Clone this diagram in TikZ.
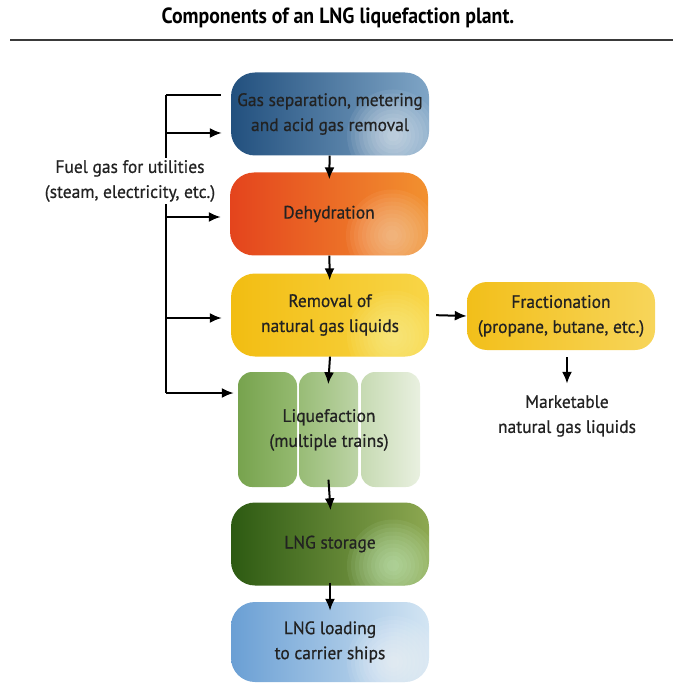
\documentclass[tikz,border=0pt]{standalone}
\usepackage{fontspec}
\setmainfont{PT Sans}[FakeStretch=0.98]
\newfontfamily\lblfont{PT Sans}[FakeStretch=0.97, FakeBold=0.6]
\newfontfamily\titlefont{PT Sans}[FakeStretch=0.9]
\usepackage{tikz}
\usetikzlibrary{arrows.meta}
\usetikzlibrary{calc}

\definecolor{textgray}{HTML}{222222}
\definecolor{rulegray}{HTML}{3A3A3A}
\definecolor{sepleft}{HTML}{22507E}
\definecolor{sepright}{HTML}{7FA5C6}
\definecolor{dehleft}{HTML}{E4441D}
\definecolor{dehright}{HTML}{F2912F}
\definecolor{nglleft}{HTML}{F2BD12}
\definecolor{nglright}{HTML}{F8D547}
\definecolor{fracleft}{HTML}{F2BF1A}
\definecolor{fracright}{HTML}{F7D55A}
\definecolor{trainAl}{HTML}{77A34E}
\definecolor{trainAr}{HTML}{95BA70}
\definecolor{trainBl}{HTML}{98BC76}
\definecolor{trainBr}{HTML}{BDD4A6}
\definecolor{trainCl}{HTML}{C6DAB2}
\definecolor{trainCr}{HTML}{E9F0E0}
\definecolor{storleft}{HTML}{2D5A12}
\definecolor{storright}{HTML}{8DA851}
\definecolor{loadleft}{HTML}{6A9FD4}
\definecolor{loadright}{HTML}{D3E5F3}

\tikzset{
  lbl/.style={font=\lblfont\fontsize{18}{25}\selectfont, text=textgray, align=center},
  stage/.style={lbl, rounded corners=24pt, minimum width=198pt, minimum height=83pt, inner sep=0pt},
  glow/.style={path picture={\foreach \r in {46,42,...,4}
      \fill[#1, opacity=0.07] ($(path picture bounding box.south east)+(-36,-20)$) circle (\r pt);}},
  arr/.style={-{Latex[length=12pt,width=10pt]}, line width=2pt, black},
  bus/.style={line width=2pt, black},
}

\begin{document}
\begin{tikzpicture}[x=1pt,y=-1pt]
  \useasboundingbox (0,0) rectangle (673,684);
  \node[font=\titlefont\bfseries\fontsize{22}{26}\selectfont, text=black] (title) at (338,18)
    {Components of an LNG liquefaction plant.};
  \draw[line width=2.5pt, rulegray] (10,40) -- (673,40);

  \node[stage, left color=sepleft, right color=sepright, glow=white] (gassep) at (330,114)
    {Gas separation, metering\\and acid gas removal};
  \node[stage, left color=dehleft, right color=dehright, glow=orange!25!white] (dehyd) at (329,214)
    {Dehydration};
  \node[stage, left color=nglleft, right color=nglright, glow=yellow!35!white] (ngl) at (330,315)
    {Removal of\\natural gas liquids};
  \node[stage, rounded corners=20pt, minimum width=188pt, minimum height=68pt,
        left color=fracleft, right color=fracright] (frac) at (561,316)
    {Fractionation\\(propane, butane, etc.)};
  \node[lbl] (market) at (567,416) {Marketable\\natural gas liquids};

  \foreach \tx/\tr in {238/A, 299/B, 361/C}
    \shade[rounded corners=14pt, left color=train\tr l, right color=train\tr r] (\tx,372) rectangle +(59,115);
  \node[lbl, minimum width=182pt, minimum height=115pt, inner sep=0pt] (liq) at (329,430)
    {Liquefaction\\(multiple trains)};

  \node[stage, left color=storleft, right color=storright, glow=green!15!white] (storage) at (330,544)
    {LNG storage};
  \node[stage, minimum height=80pt, left color=loadleft, right color=loadright, glow=white] (loading) at (330,642)
    {LNG loading\\to carrier ships};

  \draw[arr, shorten >=-7pt] (gassep) to (dehyd);
  \draw[arr, shorten >=-7pt] (dehyd) to (ngl);
  \draw[arr, shorten >=-12pt] (ngl.south) to (liq.north);
  \draw[arr, shorten <=-8pt, shorten >=-8pt] (liq.south) to (storage.north);
  \draw[arr, shorten <=-3pt, shorten >=-9pt] (storage) to (loading);
  \draw[arr, shorten <=7pt] (ngl.east) to (frac.west);
  \draw[arr, shorten <=7pt, shorten >=8pt] (frac.south -| market) to (market.north);

  \coordinate (b0) at (166,95);
  \coordinate (b1) at (166,133);
  \coordinate (b2) at (166,217);
  \coordinate (b3) at (166,318);
  \coordinate (b4) at (166,393);
  \draw[bus] (b0) -- (b4);
  \draw[bus, shorten >=10pt] (b0) -- (gassep.west |- b0);
  \draw[arr, shorten >=9pt] (b1) -- (gassep.west |- b1);
  \draw[arr, shorten >=9pt] (b2) -- (dehyd.west |- b2);
  \draw[arr, shorten >=9pt] (b3) -- (ngl.west |- b3);
  \draw[arr, shorten >=4pt] (b4) -- (liq.west |- b4);
  \node[lbl, fill=white, inner sep=2pt] (fuel) at (130,181)
    {Fuel gas for utilities\\(steam, electricity, etc.)};
\end{tikzpicture}
\end{document}
